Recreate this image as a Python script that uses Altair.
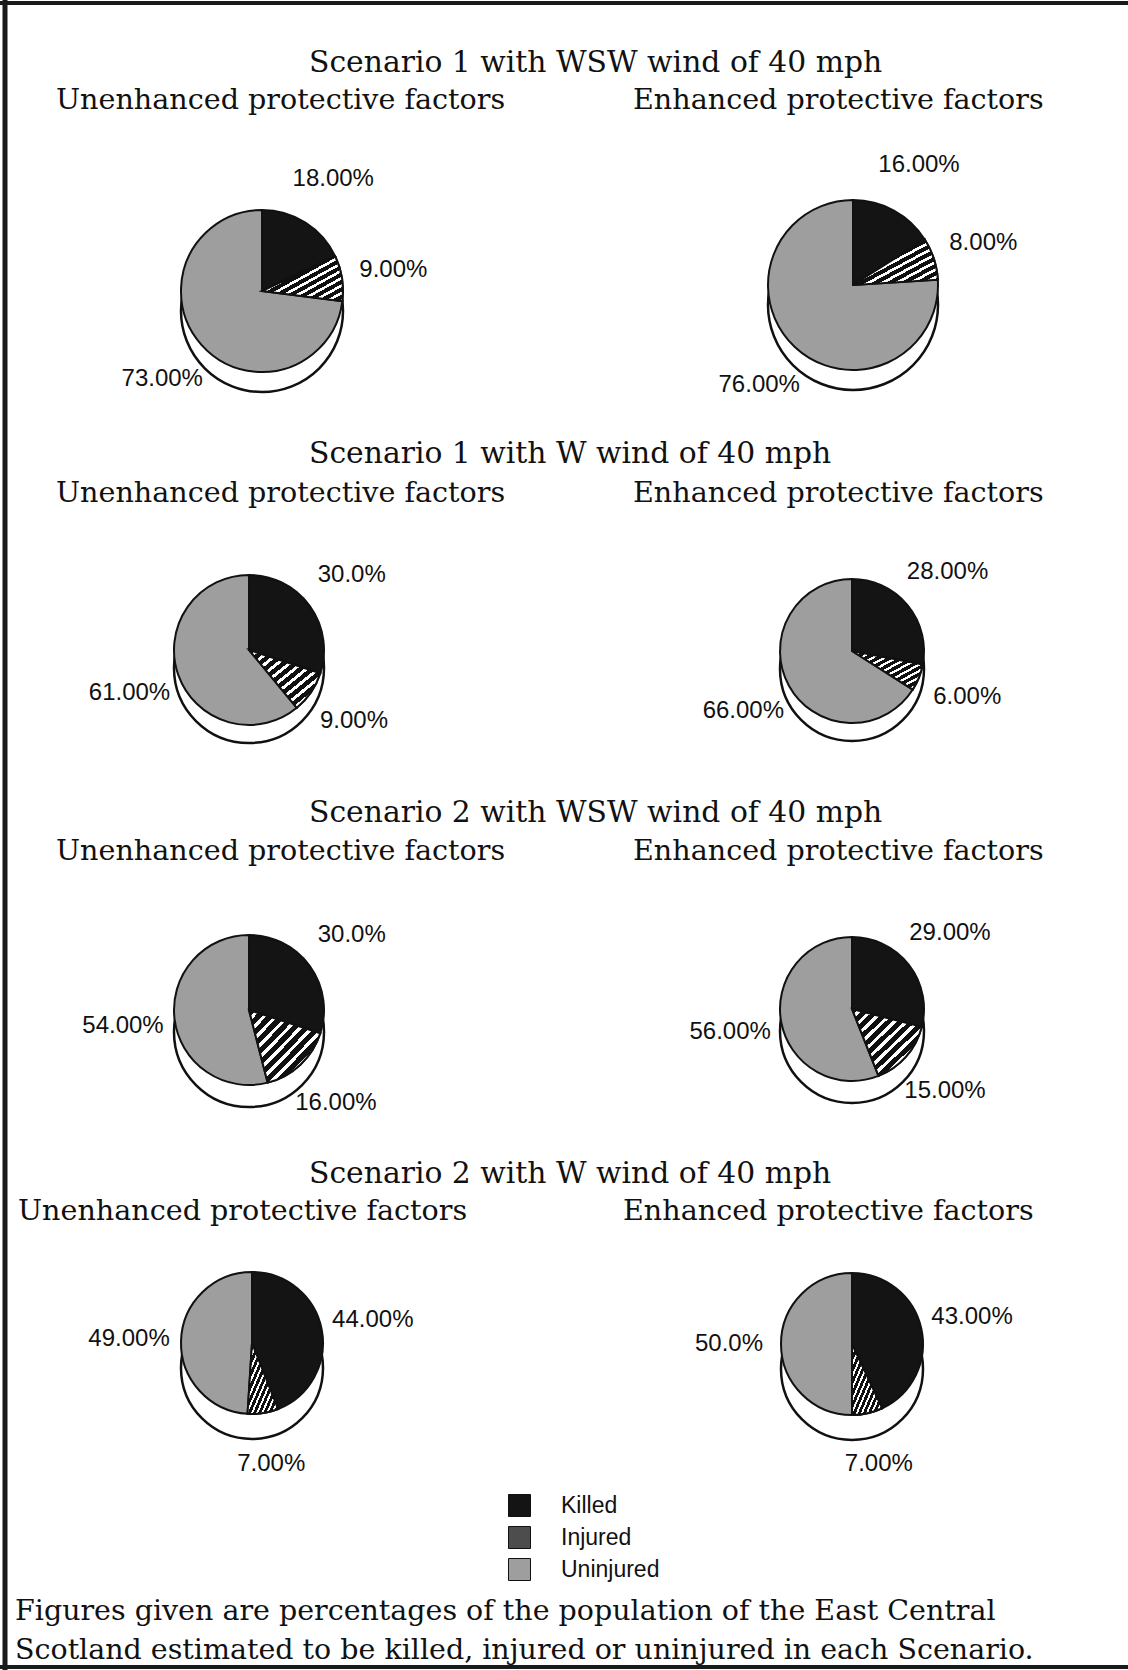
import altair as alt
import pandas as pd

# ---------------- data ----------------
categories = ["Killed", "Injured", "Uninjured"]
scenario_titles = [
    "Scenario 1 with WSW wind of 40 mph",
    "Scenario 1 with W wind of 40 mph",
    "Scenario 2 with WSW wind of 40 mph",
    "Scenario 2 with W wind of 40 mph",
]
factor_titles = ["Unenhanced protective factors", "Enhanced protective factors"]
pie_values = [
    [18, 9, 73],
    [16, 8, 76],
    [30, 9, 61],
    [28, 6, 66],
    [30, 16, 54],
    [29, 15, 56],
    [44, 7, 49],
    [43, 7, 50],
]
pie_labels = [
    ["18.00%", "9.00%", "73.00%"],
    ["16.00%", "8.00%", "76.00%"],
    ["30.0%", "9.00%", "61.00%"],
    ["28.00%", "6.00%", "66.00%"],
    ["30.0%", "16.00%", "54.00%"],
    ["29.00%", "15.00%", "56.00%"],
    ["44.00%", "7.00%", "49.00%"],
    ["43.00%", "7.00%", "50.0%"],
]
footnote = [
    "Figures given are percentages of the population of the East Central",
    "Scotland estimated to be killed, injured or uninjured in each Scenario.",
]

rows = []
for p, (vals, labs) in enumerate(zip(pie_values, pie_labels)):
    for k, (c, v, l) in enumerate(zip(categories, vals, labs)):
        rows.append({"pie": p, "order": k, "category": c, "value": v, "label": l})
df = pd.DataFrame(rows)

# ---------------- layout / style ----------------
W, H = 1128, 1670
centers = [(262, 291), (853, 285), (249, 650), (852, 651),
           (249, 1010), (852, 1009), (252, 1343), (852, 1344)]
radii = [81, 85, 75, 72, 75, 72, 71, 71]
rim_off = [20, 20, 18, 18, 22, 22, 25, 25]
title_x = 309
title_y = [72, 463, 822, 1183]
sub_y = [109, 502, 860, 1220]
sub_x = [(56, 633), (56, 633), (56, 633), (18, 623)]
colors = ["#141414", "#4d4d4d", "#9e9e9e"]
SERIF = "DejaVu Serif"
SANS = "Liberation Sans"

n_str = 12
stops = []
for i in range(n_str):
    a = i / n_str
    b = (i + 0.6) / n_str
    c = (i + 1) / n_str
    stops += [alt.GradientStop(color="#111111", offset=a),
              alt.GradientStop(color="#111111", offset=b),
              alt.GradientStop(color="#ffffff", offset=b),
              alt.GradientStop(color="#ffffff", offset=c)]
stripes = alt.LinearGradient(gradient="linear", stops=stops, x1=0, y1=0, x2=1, y2=1)

theta_scale = alt.Scale(domain=[0, 100])
base = alt.Chart(df)

layers = []
for p in range(8):
    cx, cy = centers[p]
    r = radii[p]
    pb = base.transform_filter(alt.datum.pie == p).transform_stack(
        stack="value", groupby=["pie"], as_=["t0", "t1"],
        sort=[alt.SortField("order", order="ascending")],
    ).transform_calculate(mid="(datum.t0 + datum.t1) / 2")

    rim = pb.transform_filter(alt.datum.order == 0).mark_arc(
        radius=r, theta=0, theta2=6.2832, fill="white", stroke="#111111", strokeWidth=2.5
    ).encode(x=alt.value(cx), y=alt.value(cy + rim_off[p]))

    slices = pb.mark_arc(radius=r, stroke="#111111", strokeWidth=2).encode(
        x=alt.value(cx), y=alt.value(cy),
        theta=alt.Theta("t0:Q", scale=theta_scale),
        theta2="t1:Q",
        color=alt.Color(
            "category:N",
            scale=alt.Scale(domain=categories, range=colors),
            legend=alt.Legend(
                title=None, orient="none", legendX=508, legendY=1494,
                symbolType="square", symbolSize=484, symbolStrokeColor="#111111",
                symbolStrokeWidth=1, symbolOpacity=1, labelFont=SANS, labelFontSize=23,
                labelColor="#111111", rowPadding=5, labelOffset=30, padding=0,
            ),
        ),
    )

    hatch = pb.transform_filter(alt.datum.order == 1).mark_arc(
        radius=r, fill=stripes, stroke="#111111", strokeWidth=2
    ).encode(
        x=alt.value(cx), y=alt.value(cy),
        theta=alt.Theta("t0:Q", scale=theta_scale),
        theta2="t1:Q",
    )

    labels = pb.mark_text(font=SANS, fontSize=24, color="#111111",
                          align="center", baseline="middle").encode(
        x=alt.value(cx), y=alt.value(cy),
        theta=alt.Theta("mid:Q", scale=theta_scale, stack=False),
        radius=alt.value(r + 52),
        text="label:N",
    )
    layers += [rim, slices, hatch, labels]

# titles
for s in range(4):
    layers.append(
        alt.Chart(pd.DataFrame({"t": [scenario_titles[s]]})).mark_text(
            font=SERIF, fontSize=29.8, color="#111111", align="left", baseline="alphabetic"
        ).encode(x=alt.value(title_x), y=alt.value(title_y[s]), text="t:N")
    )
    for f in range(2):
        layers.append(
            alt.Chart(pd.DataFrame({"t": [factor_titles[f]]})).mark_text(
                font=SERIF, fontSize=28.6, color="#111111", align="left", baseline="alphabetic"
            ).encode(x=alt.value(sub_x[s][f]), y=alt.value(sub_y[s]), text="t:N")
        )

for i, line in enumerate(footnote):
    layers.append(
        alt.Chart(pd.DataFrame({"t": [line]})).mark_text(
            font=SERIF, fontSize=28.5, color="#111111", align="left", baseline="alphabetic"
        ).encode(x=alt.value(15), y=alt.value([1620, 1659][i]), text="t:N")
    )

# frame (top, left, bottom)
frame_df = pd.DataFrame({"k": [0]})
layers.append(alt.Chart(frame_df).mark_rule(color="#1a1a1a", strokeWidth=4).encode(
    x=alt.value(0), x2=alt.value(W), y=alt.value(3)))
layers.append(alt.Chart(frame_df).mark_rule(color="#1a1a1a", strokeWidth=5).encode(
    x=alt.value(5), y=alt.value(0), y2=alt.value(H)))
layers.append(alt.Chart(frame_df).mark_rule(color="#1a1a1a", strokeWidth=4).encode(
    x=alt.value(0), x2=alt.value(W), y=alt.value(1667)))

chart = alt.layer(*layers).properties(
    width=W, height=H, padding=0,
    autosize=alt.AutoSizeParams(type="none"),
    background="white",
).configure_view(stroke=None)

chart.save("out.html", embed_options={"renderer": "svg", "actions": False})
